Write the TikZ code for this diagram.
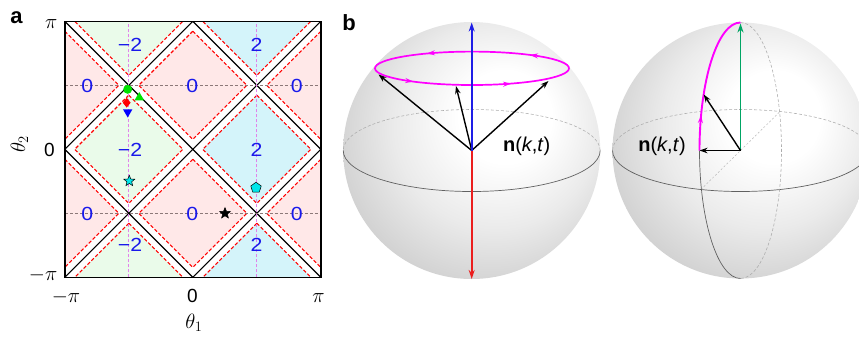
\documentclass[tikz,border=0pt]{standalone}
\usepackage{fontspec}
\setmainfont{Liberation Sans}
\usepackage{graphicx}
\usetikzlibrary{arrows.meta,shapes.geometric,decorations.markings,calc}
\definecolor{pinkf}{RGB}{255,232,232}
\definecolor{greenf}{RGB}{234,251,234}
\definecolor{cyanf}{RGB}{212,244,250}
\definecolor{lblue}{RGB}{25,25,235}
\definecolor{mag}{RGB}{255,0,255}
\definecolor{gridmag}{RGB}{225,130,235}
\definecolor{gridgray}{RGB}{140,120,120}
\definecolor{axblue}{RGB}{30,30,230}
\definecolor{axred}{RGB}{235,30,30}
\definecolor{axgreen}{RGB}{0,165,100}
\definecolor{mkgreen}{RGB}{0,225,0}
\definecolor{mkcyan}{RGB}{0,230,235}
\pgfdeclareradialshading{sphshade}{\pgfpoint{8bp}{8bp}}{color(0bp)=(white); color(9bp)=(white); color(20bp)=(white!92!black); color(30bp)=(white!82!black); color(50bp)=(white!78!black)}
\newcommand\diamcell[3]{\path[fill=#3, draw=red, line width=1.1, dash pattern=on 3.5pt off 2pt] (#1,#2) ++(0,1.69) -- ++(1.69,-1.69) -- ++(-1.69,-1.69) -- ++(-1.69,1.69) -- cycle;}
\tikzset{
  lbl/.style={text=lblue, font=\fontsize{19}{19}\selectfont, inner sep=0},
  tick/.style={font=\fontsize{19}{19}\selectfont, inner sep=0},
  mkcirc/.style={circle, fill=mkgreen, inner sep=0, minimum size=9pt},
  mktri/.style={regular polygon, regular polygon sides=3, fill=mkgreen, inner sep=0, minimum size=11pt},
  mkdown/.style={regular polygon, regular polygon sides=3, shape border rotate=180, fill=blue, inner sep=0, minimum size=11pt},
  mkdia/.style={diamond, fill=red, inner sep=0, minimum width=8pt, minimum height=10pt},
  mkstar/.style={star, star points=5, star point ratio=2.3, draw=black, line width=0.5, inner sep=0, minimum size=11.5pt},
  mkpent/.style={regular polygon, regular polygon sides=5, fill=mkcyan, draw=black, line width=0.5, inner sep=0, minimum size=11pt},
  eqback/.style={gray!65, line width=0.55, dash pattern=on 3pt off 2pt},
  eqfront/.style={black!62, line width=0.7},
  vec/.style={black, line width=1.4, -{Stealth[length=8pt,width=5.5pt]}},
  nlab/.style={font=\fontsize{20}{20}\selectfont, inner sep=0},
  panel/.style={font=\fontsize{22}{22}\selectfont\bfseries, inner sep=0}
}
\begin{document}
\begin{tikzpicture}[x=1pt,y=-1pt]
\useasboundingbox (0,0) rectangle (859,341);
% ---------------- panel a ----------------
\node[panel] (pa) at (16.5,17.5) {a};
\begin{scope}[shift={(192.8,149.3)}, x=32pt, y=32pt]
  \begin{scope}
    \clip (-4,-4) rectangle (4,4);
    \diamcell{0}{2}{pinkf}
    \diamcell{0}{-2}{pinkf}
    \diamcell{-4}{2}{pinkf}
    \diamcell{-4}{-2}{pinkf}
    \diamcell{4}{2}{pinkf}
    \diamcell{4}{-2}{pinkf}
    \diamcell{-2}{0}{greenf}
    \diamcell{-2}{4}{greenf}
    \diamcell{-2}{-4}{greenf}
    \diamcell{2}{0}{cyanf}
    \diamcell{2}{4}{cyanf}
    \diamcell{2}{-4}{cyanf}
    \draw[black, line width=1.1] (-4,-4) -- (4,4) (-4,4) -- (4,-4)
      (-4,0) -- (0,4) -- (4,0) -- (0,-4) -- cycle;
    \draw[gridgray, line width=0.6, dash pattern=on 3pt off 2pt] (-4,2) -- (4,2) (-4,-2) -- (4,-2);
    \draw[gridmag, line width=0.7, dash pattern=on 3pt off 2pt] (-2,-4) -- (-2,4) (2,-4) -- (2,4);
  \end{scope}
  \draw[black, line width=1.6] (-4,-4) rectangle (4,4);
\end{scope}
% blue winding labels
\node[lbl] (w1) at (130,45) {\scalebox{1.12}[1]{−2}};
\node[lbl] (w2) at (256.5,45) {\scalebox{1.12}[1]{2}};
\node[lbl] (w3) at (87.3,85.5) {\scalebox{1.12}[1]{0}};
\node[lbl] (w4) at (192.3,85.5) {\scalebox{1.12}[1]{0}};
\node[lbl] (w5) at (296.7,85.5) {\scalebox{1.12}[1]{0}};
\node[lbl] (w6) at (130,150) {\scalebox{1.12}[1]{−2}};
\node[lbl] (w7) at (256.5,150) {\scalebox{1.12}[1]{2}};
\node[lbl] (w8) at (87.3,213.5) {\scalebox{1.12}[1]{0}};
\node[lbl] (w9) at (192.3,213.5) {\scalebox{1.12}[1]{0}};
\node[lbl] (w10) at (296.7,213.5) {\scalebox{1.12}[1]{0}};
\node[lbl] (w11) at (130,245) {\scalebox{1.12}[1]{−2}};
\node[lbl] (w12) at (256.5,245) {\scalebox{1.12}[1]{2}};
% markers
\node[mkcirc] (m1) at (127.7,89.3) {};
\node[mktri] (m2) at (139.3,97.5) {};
\node[mkdia] (m3) at (126.7,102.7) {};
\node[mkdown] (m4) at (127.7,112) {};
\node[mkstar, fill=mkcyan] (m5) at (129.3,181) {};
\node[mkpent] (m6) at (256,187.7) {};
\node[mkstar, fill=black] (m7) at (225,213.3) {};
% tick labels
\node[tick, anchor=base east] (ty1) at (57.5,28.3) {\fontsize{21}{21}\selectfont$\pi$};
\node[tick, anchor=base east] (ty2) at (55,156.5) {0};
\node[tick, anchor=base east] (ty3) at (57.5,280) {\fontsize{21}{21}\selectfont$-\pi$};
\node[tick, anchor=base] (tx1) at (66,302) {\fontsize{21}{21}\selectfont$-\pi$};
\node[tick, anchor=base] (tx2) at (192.5,302) {0};
\node[tick, anchor=base] (tx3) at (318.5,302) {\fontsize{21}{21}\selectfont$\pi$};
\node[tick, anchor=base] (xl) at (194,328) {\fontsize{21}{21}\selectfont$\theta_1$};
\node[tick, anchor=base, rotate=90] (yl) at (25,144) {\fontsize{21}{21}\selectfont$\theta_2$};
% ---------------- panel b ----------------
\node[panel] (pb) at (349,22.5) {b};
% sphere 1
\coordinate (O1) at (471.7,150.5);
\coordinate (C1) at (472,68.3);
\shade[shading=sphshade] (O1) circle [radius=128.5];
\draw[eqback] ($(O1)+(128.5,0)$) arc[start angle=0, end angle=-180, x radius=128.5, y radius=41];
\draw[eqfront] ($(O1)+(128.5,0)$) arc[start angle=0, end angle=180, x radius=128.5, y radius=41];
\draw[mag, line width=1.7, postaction=decorate, decoration={markings,
   mark=at position 0.106 with {\arrow{Stealth[length=8pt,width=5pt]}},
   mark=at position 0.362 with {\arrow{Stealth[length=8pt,width=5pt]}},
   mark=at position 0.604 with {\arrow{Stealth[length=8pt,width=5pt]}},
   mark=at position 0.847 with {\arrow{Stealth[length=8pt,width=5pt]}}}]
   ($(C1)+(97,0)$) arc[start angle=0, end angle=-360, x radius=97, y radius=16.7];
\coordinate (P1) at (378.5,74.5);
\coordinate (P2) at (456,86);
\coordinate (P3) at (548.5,81);
\coordinate (N1) at (471.7,22.5);
\coordinate (S1) at (471.7,279);
\draw[vec] (O1) -- (P1);
\draw[vec] (O1) -- (P2);
\draw[vec] (O1) -- (P3);
\draw[axblue, line width=1.6, -{Stealth[length=9pt,width=6pt,fill=axblue!30]}] (O1) -- (N1);
\draw[axred, line width=1.6, -{Stealth[length=9pt,width=6pt]}] (O1) -- (S1);
\node[nlab] (n1) at (526.7,146.7) {\textbf{n}(\textit{k},\textit{t})};
% sphere 2
\coordinate (O2) at (740.5,150.5);
\shade[shading=sphshade] (O2) circle [radius=128];
\draw[gray!55, line width=0.5, dash pattern=on 2pt off 2pt] ($(O2)+(108:128 and 41)$) -- ($(O2)+(288:128 and 41)$);
\draw[eqback] ($(O2)+(128,0)$) arc[start angle=0, end angle=-180, x radius=128, y radius=41];
\draw[eqfront] ($(O2)+(128,0)$) arc[start angle=0, end angle=180, x radius=128, y radius=41];
\draw[eqfront] ($(O2)+(0,128)$) arc[start angle=90, end angle=180, x radius=41, y radius=128];
\draw[eqback] ($(O2)+(0,-128)$) arc[start angle=270, end angle=450, x radius=41, y radius=128];
\coordinate (L2) at ($(O2)+(-41,0)$);
\coordinate (N2) at ($(O2)+(0,-127)$);
\coordinate (Q2) at ($(O2)+(206:41 and 128)$);
\draw[mag, line width=1.9, postaction=decorate, decoration={markings,
   mark=at position 0.25 with {\arrow{Stealth[length=8pt,width=5pt]}}}]
   (L2) arc[start angle=180, end angle=270, x radius=41, y radius=128];
\draw[axgreen, line width=1.6, -{Stealth[length=9pt,width=6pt,fill=axgreen!30]}] (O2) -- (N2);
\draw[vec] (O2) -- (L2);
\draw[vec] (O2) -- (Q2);
\node[nlab] (n2) at (662,146) {\textbf{n}(\textit{k},\textit{t})};
\end{tikzpicture}
\end{document}
